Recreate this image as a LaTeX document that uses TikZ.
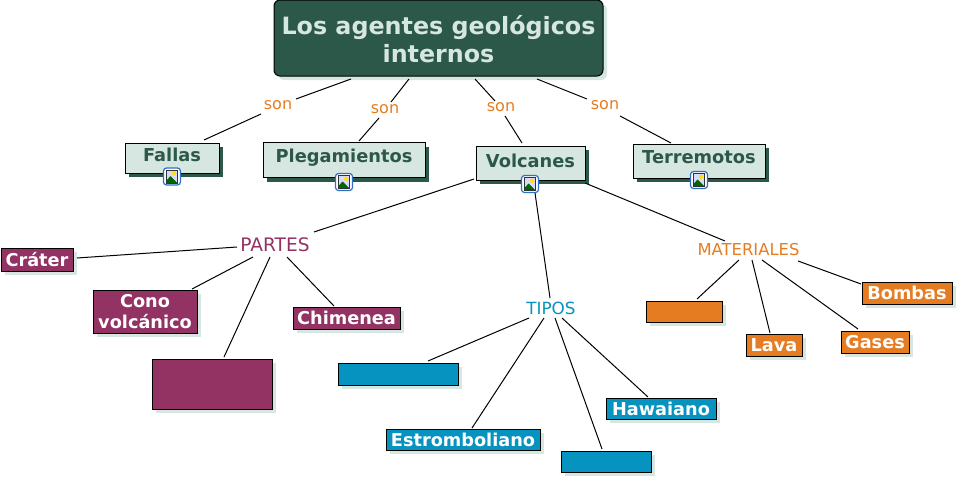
\documentclass[tikz,border=0pt]{standalone}
\usepackage{fontspec}
\setmainfont{DejaVu Sans}
\usetikzlibrary{shadows,calc}
\definecolor{dgreen}{HTML}{2C5849}
\definecolor{lgreen}{HTML}{D6E6E0}
\definecolor{cpurple}{HTML}{933363}
\definecolor{corange}{HTML}{E57C21}
\definecolor{cblue}{HTML}{0693BF}
\definecolor{iconblue}{HTML}{2F6FC4}
\tikzset{
  every node/.style={inner sep=0pt,outer sep=0pt,align=center},
  lightsh/.style={general shadow={fill=lgreen,shadow xshift=4pt,shadow yshift=-4pt}},
  darksh/.style={general shadow={fill=dgreen,shadow xshift=4pt,shadow yshift=-4pt}},
  rootbox/.style={draw=black,line width=1pt,fill=dgreen,text=lgreen,rounded corners=6pt,lightsh,font=\fontsize{23.8}{28}\selectfont\bfseries},
  topicbox/.style={draw=black,line width=1pt,fill=lgreen,text=dgreen,darksh,font=\fontsize{17.8}{21}\selectfont\bfseries},
  leafbox/.style={draw=black,line width=1pt,text=white,lightsh,font=\fontsize{17.7}{21.5}\selectfont\bfseries},
  purplebox/.style={leafbox,fill=cpurple},
  orangebox/.style={leafbox,fill=corange},
  bluebox/.style={leafbox,fill=cblue},
  linktext/.style={font=\fontsize{16}{18}\selectfont},
  conn/.style={draw=black,line width=1pt},
  sz/.style 2 args={minimum width=#1pt,minimum height=#2pt}
}
% connector between two named nodes, with offsets from their centres
\newcommand{\lnk}[4]{\draw[conn] ([shift={(#2)}]#1.center) -- ([shift={(#4)}]#3.center);}
% small picture icon
\newcommand{\imgicon}[2]{%
  \begin{scope}[shift={(#1)}]
    \node[draw=iconblue,fill=white,line width=1.2pt,rounded corners=3pt,minimum width=17pt,minimum height=17pt] (#2) at (0,0) {};
    \fill[white!85!blue] (-5.5,-6.5) rectangle (5.5,6.5);
    \fill[yellow!85!orange] (2.2,-3.2) circle (2.2);
    \fill[green!40!black] (-5.5,6.5) -- (-5.5,4) -- (-1.5,-0.5) -- (5.5,6.5) -- cycle;
    \draw[black!80,line width=0.7pt] (-5.5,-6.5) rectangle (5.5,6.5);
  \end{scope}}
\begin{document}
\begin{tikzpicture}[x=1pt,y=-1pt]
\useasboundingbox (0,0) rectangle (957,479);
\node[rootbox,sz={329}{76}] (root) at (438.5,38) {\rule{0pt}{21pt}Los agentes geológicos\\internos};
\node[topicbox,sz={94}{30}] (fallas) at (172,158) {\raisebox{6pt}{Fallas}};
\node[topicbox,sz={162}{35}] (pleg) at (344,160) {\raisebox{8pt}{Plegamientos}};
\node[topicbox,sz={109}{34}] (volc) at (530.5,163) {\raisebox{4pt}{Volcanes}};
\node[topicbox,sz={132}{34}] (terr) at (699,161) {\raisebox{8pt}{Terremotos}};
\imgicon{172,176.5}{ifallas}
\imgicon{344,182}{ipleg}
\imgicon{530,184}{ivolc}
\imgicon{699,180}{iterr}
\node[linktext,text=corange] (son1) at (278,105) {son};
\node[linktext,text=corange] (son2) at (385,109) {son};
\node[linktext,text=corange] (son3) at (501,107) {son};
\node[linktext,text=corange] (son4) at (605,105) {son};
\node[font=\fontsize{18.6}{20}\selectfont,text=cpurple] (partes) at (275,245) {PARTES};
\node[font=\fontsize{16.8}{20}\selectfont,text=cblue] (tipos) at (551,308) {TIPOS};
\node[font=\fontsize{16.4}{20}\selectfont,text=corange] (mat) at (748.5,250) {MATERIALES};
\node[purplebox,sz={72}{23}] (crater) at (37,259.5) {\raisebox{-1pt}{Cráter}};
\node[purplebox,sz={104}{43}] (cono) at (145,311.5) {Cono\\volcánico};
\node[purplebox,sz={120}{50}] (pe) at (212,384) {};
\node[purplebox,sz={107}{22}] (chim) at (346.5,318) {Chimenea};
\node[orangebox,sz={76}{21}] (me) at (684,311.5) {};
\node[orangebox,sz={56}{22}] (lava) at (774,345) {Lava};
\node[orangebox,sz={68}{22}] (gases) at (875,342) {Gases};
\node[orangebox,sz={90}{22}] (bombas) at (907,293) {Bombas};
\node[bluebox,sz={120}{22}] (ba) at (398,374) {};
\node[bluebox,sz={154}{21}] (estr) at (463,439.5) {Estromboliano};
\node[bluebox,sz={90}{21}] (bb) at (606,461.5) {};
\node[bluebox,sz={110}{21}] (haw) at (661,408.5) {\raisebox{-1pt}{Hawaiano}};
\lnk{root}{-87.5,41}{son1}{18,-6}
\lnk{son1}{-17,9}{fallas}{32,-18}
\lnk{root}{-29.5,41}{son2}{6,-7}
\lnk{son2}{-6,9}{pleg}{15,-19}
\lnk{root}{36.5,41}{son3}{-6,-6}
\lnk{son3}{4,9}{volc}{-8.5,-20}
\lnk{root}{98.5,41}{son4}{-18,-6}
\lnk{son4}{15,11}{terr}{-28,-18}
\lnk{volc}{-56.5,16}{partes}{39,-13}
\lnk{partes}{-38,2}{crater}{40,-1.5}
\lnk{partes}{-22,12}{cono}{47,-22.5}
\lnk{partes}{-5,12}{pe}{12,-27}
\lnk{partes}{12,12}{chim}{-12.5,-12}
\lnk{volc}{4.5,30}{tipos}{-1,-10}
\lnk{volc}{54.5,20}{mat}{-23.5,-9}
\lnk{tipos}{-22,10}{ba}{30,-13}
\lnk{tipos}{-7,10}{estr}{9,-11.5}
\lnk{tipos}{4,10}{bb}{-4,-12.5}
\lnk{tipos}{11,10}{haw}{-13,-11.5}
\lnk{mat}{-9.5,10}{me}{13,-12.5}
\lnk{mat}{3.5,10}{lava}{-4,-12}
\lnk{mat}{13.5,10}{gases}{-17,-13}
\lnk{mat}{49.5,11}{bombas}{-46,-9}
\end{tikzpicture}
\end{document}
